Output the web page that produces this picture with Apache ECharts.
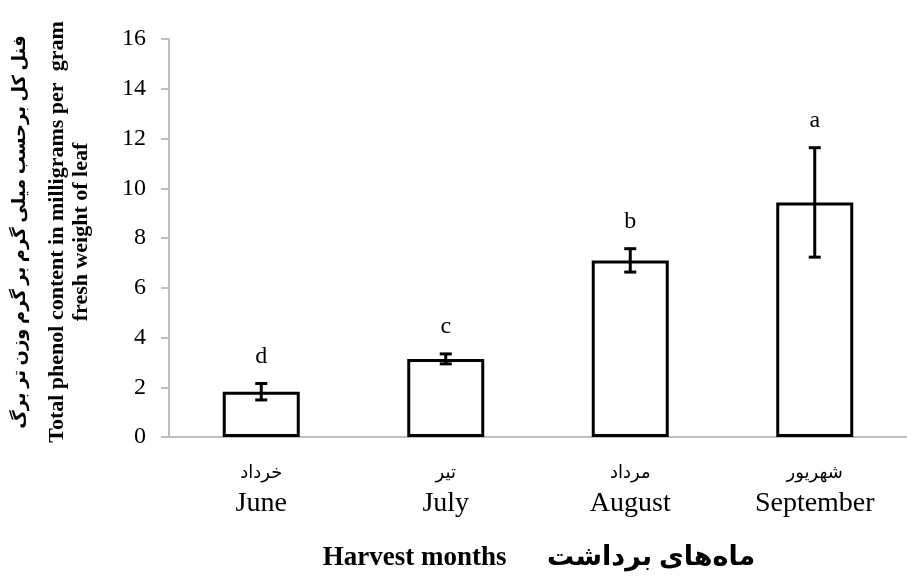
<!DOCTYPE html>
<html>
<head>
<meta charset="utf-8">
<script src="https://cdn.jsdelivr.net/npm/echarts@6/dist/echarts.min.js"></script>
<style>
  html, body { margin: 0; background: #fff; }
  #chart { width: 907px; height: 576px; }
</style>
</head>
<body>
<div id="chart"></div>
<script>
// harvest months (English + Persian labels)
const monthsEn = ['June', 'July', 'August', 'September']
const monthsFa = ['خرداد', 'تیر', 'مرداد', 'شهریور']
// total phenol, mg per g fresh weight, with error (+/-)
const phenol = [1.82, 3.14, 7.1, 9.43]
const phenolErr = [0.33, 0.2, 0.47, 2.2]
// significance letters
const groups = ['d', 'c', 'b', 'a']

const serif = "'Liberation Serif', 'DejaVu Serif', 'DejaVu Sans', serif"

const chart = echarts.init(document.getElementById('chart'))

const option = {
  backgroundColor: '#fff',
  animation: false,
  grid: { left: 169, top: 39, width: 744, bottom: 139, containLabel: false },
  xAxis: {
    type: 'category',
    data: monthsEn,
    axisLine: { lineStyle: { color: '#bfbfbf', width: 2 } },
    axisTick: { length: 7, lineStyle: { color: '#bfbfbf', width: 2 } },
    axisLabel: {
      margin: 22,
      interval: 0,
      formatter: (v, i) => '{fa|' + monthsFa[i] + '}\n{en|' + v + '}',
      rich: {
        fa: { fontFamily: serif, fontSize: 18, color: '#000', lineHeight: 28 },
        en: { fontFamily: serif, fontSize: 28, color: '#000', lineHeight: 34 }
      }
    }
  },
  yAxis: {
    type: 'value',
    min: 0,
    max: 16,
    interval: 2,
    splitLine: { show: false },
    axisLine: { show: true, lineStyle: { color: '#bfbfbf', width: 2 } },
    axisTick: { show: true, length: 8, lineStyle: { color: '#bfbfbf', width: 2 } },
    axisLabel: { margin: 23, fontFamily: serif, fontSize: 24, color: '#000' }
  },
  graphic: [
    {
      type: 'text', x: 20, y: 232, rotation: Math.PI / 2,
      style: {
        text: 'فنل کل برحسب میلی گرم بر گرم وزن تر برگ',
        font: 'bold 18px ' + serif, fill: '#000', align: 'center', verticalAlign: 'middle'
      }
    },
    {
      type: 'text', x: 57, y: 232, rotation: Math.PI / 2,
      style: {
        text: 'Total phenol content in milligrams per  gram',
        font: 'bold 22px ' + serif, fill: '#000', align: 'center', verticalAlign: 'middle'
      }
    },
    {
      type: 'text', x: 81, y: 232, rotation: Math.PI / 2,
      style: {
        text: 'fresh weight of leaf',
        font: 'bold 22px ' + serif, fill: '#000', align: 'center', verticalAlign: 'middle'
      }
    },
    {
      type: 'text', x: 539, y: 558,
      style: {
        text: 'Harvest months      ماه‌های برداشت',
        font: 'bold 27px ' + serif, fill: '#000', align: 'center', verticalAlign: 'middle'
      }
    }
  ],
  series: [
    {
      type: 'bar',
      data: phenol,
      barWidth: 77,
      itemStyle: { color: '#fff', borderColor: '#000', borderWidth: 3 },
      z: 2
    },
    {
      type: 'custom',
      z: 3,
      data: phenol.map((v, i) => [i, v - phenolErr[i], v + phenolErr[i]]),
      renderItem: (params, api) => {
        const lo = api.coord([api.value(0), api.value(1)])
        const hi = api.coord([api.value(0), api.value(2)])
        const x = lo[0]
        const cap = 6
        const style = { stroke: '#000', lineWidth: 3 }
        return {
          type: 'group',
          children: [
            { type: 'line', shape: { x1: x, y1: lo[1], x2: x, y2: hi[1] }, style },
            { type: 'line', shape: { x1: x - cap, y1: lo[1], x2: x + cap, y2: lo[1] }, style },
            { type: 'line', shape: { x1: x - cap, y1: hi[1], x2: x + cap, y2: hi[1] }, style },
            {
              type: 'text',
              x: x, y: hi[1] - 27,
              style: {
                text: groups[params.dataIndex],
                font: '24px ' + serif, fill: '#000', align: 'center', verticalAlign: 'middle'
              }
            }
          ]
        }
      }
    }
  ]
}

chart.setOption(option)
window.addEventListener('resize', () => chart.resize())
</script>
</body>
</html>
